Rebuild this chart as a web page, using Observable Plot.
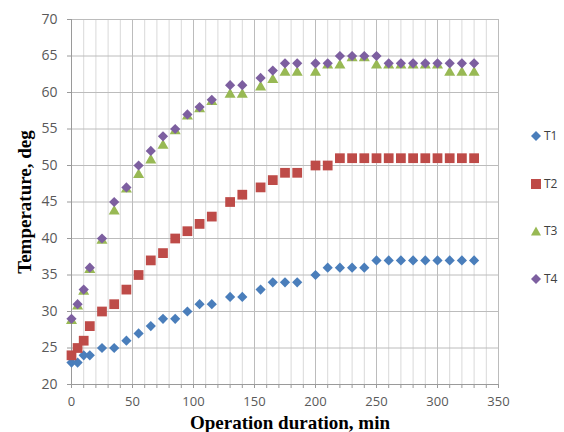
<!DOCTYPE html>
<html>
<head>
<meta charset="utf-8">
<script src="https://cdn.jsdelivr.net/npm/d3@7"></script>
<script src="https://cdn.jsdelivr.net/npm/@observablehq/plot@0.6"></script>
<style>
  html, body { margin: 0; padding: 0; background: #fff; }
  #wrap { position: relative; width: 564px; height: 432px; }
  #legend { position: absolute; left: 531px; top: 0; font-family: "Open Sans", sans-serif; font-size: 12px; color: #404040; }
  .item { position: absolute; left: 0; display: flex; align-items: center; white-space: nowrap; }
  .item svg { margin-right: 3px; }
</style>
</head>
<body>
<div id="wrap"><div id="legend"></div></div>
<script>
const times = [0,5,10,15,25,35,45,55,65,75,85,95,105,115,130,140,155,165,175,185,200,210,220,230,240,250,260,270,280,290,300,310,320,330];
const T1 = [23,23,24,24,25,25,26,27,28,29,29,30,31,31,32,32,33,34,34,34,35,36,36,36,36,37,37,37,37,37,37,37,37,37];
const T2 = [24,25,26,28,30,31,33,35,37,38,40,41,42,43,45,46,47,48,49,49,50,50,51,51,51,51,51,51,51,51,51,51,51,51];
const T3 = [29,31,33,36,40,44,47,49,51,53,55,57,58,59,60,60,61,62,63,63,63,64,64,65,65,64,64,64,64,64,64,63,63,63];
const T4 = [29,31,33,36,40,45,47,50,52,54,55,57,58,59,61,61,62,63,64,64,64,64,65,65,65,65,64,64,64,64,64,64,64,64];
const seriesNames = ["T1","T2","T3","T4"];
const seriesColors = ["#4a7ebb","#be4b48","#98b954","#7d5fa0"];
const xTicks = [0,50,100,150,200,250,300,350];
const yTicks = [20,25,30,35,40,45,50,55,60,65,70];
const xTitle = "Operation duration, min";
const yTitle = "Temperature, deg";

const values = [T1, T2, T3, T4];
const rows = seriesNames.map((s, i) => times.map((t, j) => ({series: s, t, v: values[i][j]})));

const minorX = d3.range(0, 351, 10).filter(d => d % 50 !== 0);
const tickFont = "'Open Sans', sans-serif";
const titleFont = "'Liberation Serif', 'Times New Roman', serif";

const chart = Plot.plot({
  width: 564,
  height: 432,
  marginLeft: 71,
  marginRight: 66,
  marginTop: 19,
  marginBottom: 48,
  style: {fontFamily: tickFont, background: "#fff"},
  x: {domain: [0, 350]},
  y: {domain: [20, 70]},
  marks: [
    Plot.gridX(minorX, {stroke: "#d9d9d9", strokeOpacity: 1}),
    Plot.gridX(xTicks, {stroke: "#bcbcbc", strokeOpacity: 1}),
    Plot.gridY(yTicks, {stroke: "#bcbcbc", strokeOpacity: 1}),
    Plot.ruleX([0], {stroke: "#9a9a9a"}),
    Plot.ruleY([20], {stroke: "#9a9a9a"}),
    Plot.axisX(minorX, {tickSize: 4, stroke: "#9a9a9a", tickFormat: () => null, label: null}),
    Plot.axisX(xTicks, {
      tickSize: 4, tickPadding: 8, fontSize: 13, stroke: "#9a9a9a", fill: "#595959", label: null
    }),
    Plot.axisY(yTicks, {
      tickSize: 4, tickPadding: 10, fontSize: 14, stroke: "#9a9a9a", fill: "#595959", label: null
    }),
    Plot.dot(rows[0], {x: "t", y: "v", symbol: "diamond2", r: 4.6, fill: seriesColors[0], stroke: "none"}),
    Plot.dot(rows[1], {x: "t", y: "v", symbol: "square", r: 5.5, fill: seriesColors[1], stroke: "none"}),
    Plot.dot(rows[2], {x: "t", y: "v", symbol: "triangle", r: 4.1, dy: 2, fill: seriesColors[2], stroke: "none"}),
    Plot.dot(rows[3], {x: "t", y: "v", symbol: "diamond2", r: 4.6, fill: seriesColors[3], stroke: "none"}),
    Plot.text([xTitle], {text: d => d, frameAnchor: "bottom", lineAnchor: "middle", textAnchor: "middle", dx: 5, dy: 38, fontFamily: titleFont, fontWeight: "bold", fontSize: 19, fill: "#000"}),
    Plot.text([yTitle], {text: d => d, frameAnchor: "left", lineAnchor: "middle", textAnchor: "middle", dx: -47, rotate: -90, fontFamily: titleFont, fontWeight: "bold", fontSize: 19, fill: "#000"})
  ]
});
document.getElementById("wrap").prepend(chart);

// Legend
const shapes = {
  T1: '<polygon points="5,0 10,5 5,10 0,5"/>',
  T2: '<rect x="0" y="0" width="10" height="10"/>',
  T3: '<polygon points="5,0.5 10,9.5 0,9.5"/>',
  T4: '<polygon points="5,0 10,5 5,10 0,5"/>'
};
const legendTops = [135, 183, 230, 278];
const legend = document.getElementById("legend");
seriesNames.forEach((s, i) => {
  const el = document.createElement("div");
  el.className = "item";
  el.style.top = (legendTops[i] - 8) + "px";
  el.innerHTML = `<svg width="10" height="10" viewBox="0 0 10 10" fill="${seriesColors[i]}">${shapes[s]}</svg><span>${s}</span>`;
  legend.appendChild(el);
});
</script>
</body>
</html>
